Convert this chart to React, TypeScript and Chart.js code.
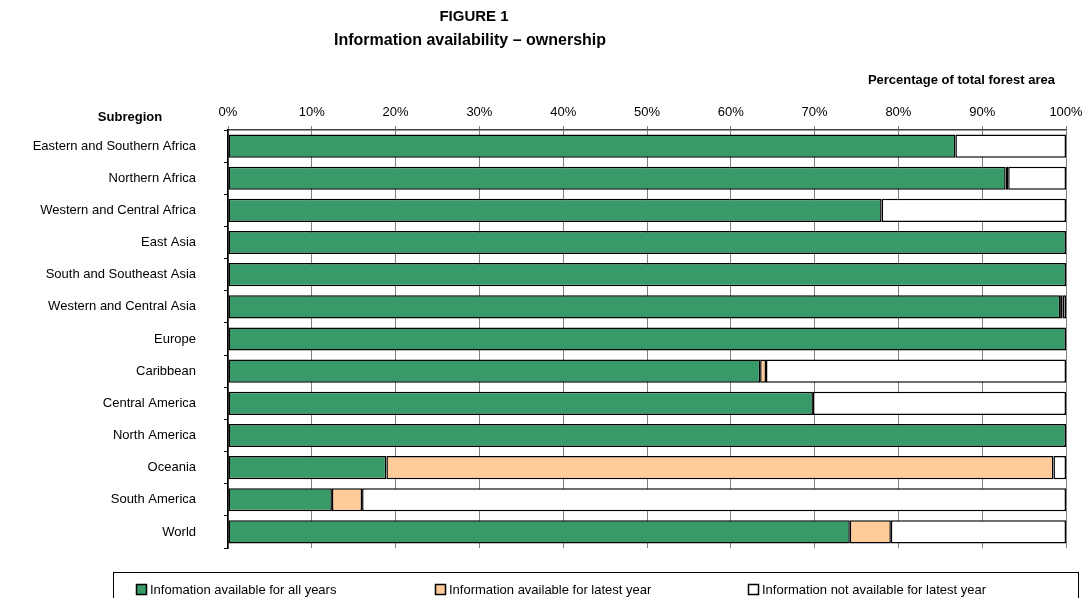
import React, { useEffect, useRef } from "react";
import { Chart, registerables } from "chart.js";

Chart.register(...registerables);

const subregions = [
  "Eastern and Southern Africa",
  "Northern Africa",
  "Western and Central Africa",
  "East Asia",
  "South and Southeast Asia",
  "Western and Central Asia",
  "Europe",
  "Caribbean",
  "Central America",
  "North America",
  "Oceania",
  "South America",
  "World",
];

const availableAllYears = [86.8, 92.8, 78.0, 100, 100, 99.3, 100, 63.5, 69.8, 100, 18.9, 12.4, 74.2];
const availableLatestYear = [0, 0.3, 0, 0, 0, 0.3, 0, 0.7, 0, 0, 79.6, 3.6, 4.9];
const notAvailable = availableAllYears.map((v, i) => Math.max(0, +(100 - v - availableLatestYear[i]).toFixed(2)));

const xTickValues = [0, 10, 20, 30, 40, 50, 60, 70, 80, 90, 100];

const seriesNames = [
  "Infomation available for all years",
  "Information available for latest year",
  "Information not available for latest year",
];
const seriesColors = ["#389A69", "#FFCC99", "#FFFFFF"];

const FONT = "'Liberation Sans', Arial, sans-serif";

const overlayPlugin = {
  id: "overlay",
  afterDraw(chart: any) {
    const ctx = chart.ctx as CanvasRenderingContext2D;
    ctx.save();
    ctx.fillStyle = "#000";
    ctx.textBaseline = "middle";
    ctx.font = `bold 15px ${FONT}`;
    ctx.textAlign = "center";
    ctx.fillText("FIGURE 1", 474, 17);
    ctx.font = `bold 16px ${FONT}`;
    ctx.fillText("Information availability \u2013 ownership", 470, 41);
    ctx.font = `bold 13px ${FONT}`;
    ctx.textAlign = "right";
    ctx.fillText("Percentage of total forest area", 1055, 80);
    ctx.textAlign = "center";
    ctx.fillText("Subregion", 130, 117);

    // legend box
    ctx.strokeStyle = "#000";
    ctx.lineWidth = 1;
    ctx.strokeRect(113.5, 572.5, 965, 40);
    const itemX = [136, 435, 748];
    ctx.font = `13px ${FONT}`;
    ctx.textAlign = "left";
    for (let i = 0; i < seriesNames.length; i++) {
      ctx.fillStyle = seriesColors[i];
      ctx.fillRect(itemX[i] + 0.5, 584.5, 10, 10);
      ctx.lineWidth = 1.5;
      ctx.strokeStyle = "#000";
      ctx.strokeRect(itemX[i] + 0.5, 584.5, 10, 10);
      ctx.fillStyle = "#000";
      ctx.fillText(seriesNames[i], itemX[i] + 14, 590);
    }
    ctx.restore();
  },
};

export default function App() {
  const canvasRef = useRef<HTMLCanvasElement | null>(null);

  useEffect(() => {
    if (!canvasRef.current) return;
    const data = [availableAllYears, availableLatestYear, notAvailable];
    const chart = new Chart(canvasRef.current, {
      type: "bar",
      data: {
        labels: subregions,
        datasets: data.map((d, i) => ({
          label: seriesNames[i],
          data: d,
          backgroundColor: seriesColors[i],
          borderColor: "#000",
          borderWidth: 1.5,
          borderSkipped: false,
          barPercentage: 0.72,
          categoryPercentage: 1,
        })),
      },
      options: {
        indexAxis: "y",
        animation: false,
        responsive: false,
        devicePixelRatio: 1,
        layout: { padding: { top: 0, right: 18, bottom: 50, left: 0 } },
        plugins: {
          legend: { display: false },
          title: { display: false },
          tooltip: { enabled: false },
        },
        scales: {
          x: {
            position: "top",
            stacked: true,
            min: 0,
            max: 100,
            afterFit(scale: any) {
              scale.height = 130;
              scale.paddingLeft = 0;
              scale.paddingRight = 0;
            },
            afterBuildTicks(scale: any) {
              scale.ticks = xTickValues.map((v) => ({ value: v }));
            },
            ticks: {
              callback: (v: any) => `${v}%`,
              color: "#000",
              font: { family: FONT, size: 13 },
              padding: 6,
              maxRotation: 0,
            },
            grid: {
              color: "#808080",
              lineWidth: 1,
              tickLength: 4,
              drawOnChartArea: true,
            },
            border: { display: true, color: "#404040", width: 1.5 },
          },
          y: {
            stacked: true,
            afterFit(scale: any) {
              scale.width = 228;
            },
            ticks: {
              color: "#000",
              font: { family: FONT, size: 13 },
              padding: 28,
              autoSkip: false,
            },
            grid: {
              offset: true,
              drawOnChartArea: false,
              color: "#000",
              tickLength: 4,
            },
            border: { display: true, color: "#000", width: 1.5 },
          },
        },
      },
      plugins: [overlayPlugin],
    });
    return () => chart.destroy();
  }, []);

  return (
    <div style={{ position: "fixed", left: 0, top: 0, width: 1084, height: 598, background: "#fff" }}>
      <canvas ref={canvasRef} width={1084} height={598} style={{ width: 1084, height: 598 }} />
    </div>
  );
}
